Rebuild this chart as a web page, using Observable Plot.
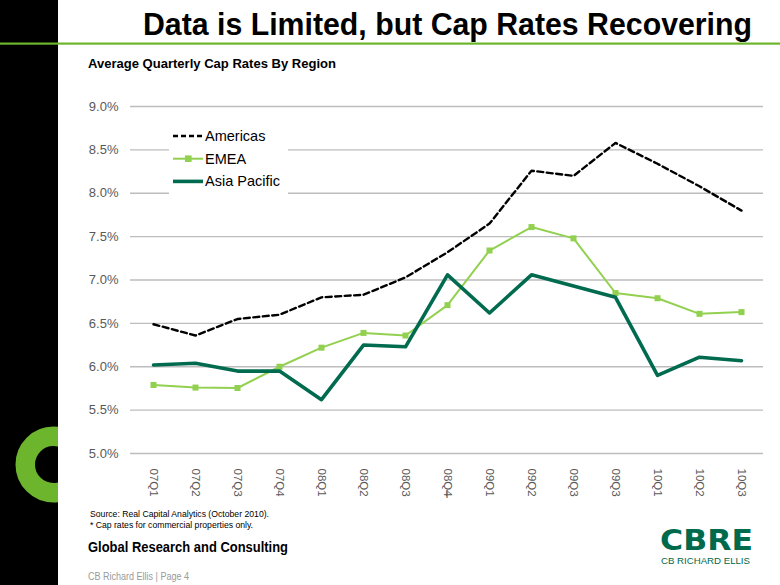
<!DOCTYPE html>
<html>
<head>
<meta charset="utf-8">
<script src="https://cdn.jsdelivr.net/npm/d3@7"></script>
<script src="https://cdn.jsdelivr.net/npm/@observablehq/plot@0.6"></script>
<style>
  html, body { margin: 0; padding: 0; background: #fff; }
  #page { position: relative; width: 780px; height: 585px; overflow: hidden; background: #fff;
          font-family: "Liberation Sans", Arial, sans-serif; }
  #plot { position: absolute; left: 0; top: 90px; }
  #legend { position: absolute; left: 169px; top: 119px; width: 119px; height: 80px; background: #fff; }
  .layer { position: absolute; left: 0; top: 0; }
</style>
</head>
<body>
<div id="page">
  <div id="plot"></div>
  <div id="legend"></div>
  <svg id="deco" class="layer" width="780" height="585"></svg>
</div>
<script>
// ---- data ----
const quarters = ["07Q1","07Q2","07Q3","07Q4","08Q1","08Q2","08Q3","08Q4","09Q1","09Q2","09Q3","09Q3","10Q1","10Q2","10Q3"];
const americas    = [6.49, 6.36, 6.55, 6.60, 6.80, 6.83, 7.03, 7.32, 7.65, 8.26, 8.20, 8.58, 8.34, 8.08, 7.80];
const emea        = [5.79, 5.76, 5.755, 6.00, 6.22, 6.39, 6.36, 6.71, 7.34, 7.61, 7.48, 6.85, 6.79, 6.61, 6.63];
const asiaPacific = [6.02, 6.04, 5.95, 5.95, 5.62, 6.25, 6.23, 7.06, 6.62, 7.06, 6.93, 6.80, 5.90, 6.11, 6.07];
const seriesNames = ["Americas", "EMEA", "Asia Pacific"];
const yTicks = [5.0, 5.5, 6.0, 6.5, 7.0, 7.5, 8.0, 8.5, 9.0];

const colAmericas = "#000000", colEmea = "#92D050", colAsia = "#006B4F";

const toRows = (vals, name) => vals.map((v, i) => ({i, v, name}));
const rowsA = toRows(americas, seriesNames[0]);
const rowsE = toRows(emea, seriesNames[1]);
const rowsP = toRows(asiaPacific, seriesNames[2]);

const chart = Plot.plot({
  width: 780,
  height: 410,
  marginLeft: 130,
  marginRight: 17,
  marginTop: 16,
  marginBottom: 47,
  style: {background: "transparent", fontFamily: "'Liberation Sans', Arial, sans-serif", color: "#595959"},
  x: {type: "point", domain: d3.range(quarters.length), padding: 0.5},
  y: {domain: [5, 9]},
  marks: [
    Plot.gridY(yTicks, {stroke: "#bdbdbd", strokeOpacity: 1, strokeWidth: 1.3}),
    Plot.axisY(yTicks, {tickSize: 0, tickPadding: 12, fontSize: 13, tickFormat: d => d.toFixed(1) + "%", fill: "#595959"}),
    Plot.axisX({tickRotate: 90, tickSize: 0, tickPadding: 15, fontSize: 11.5, tickFormat: i => quarters[i], fill: "#595959"}),
    Plot.line(rowsE, {x: "i", y: "v", stroke: colEmea, strokeWidth: 2}),
    Plot.dot(rowsE, {x: "i", y: "v", symbol: "square", r: 3.4, fill: colEmea, stroke: "none"}),
    Plot.line(rowsP, {x: "i", y: "v", stroke: colAsia, strokeWidth: 3.6}),
    Plot.line(rowsA, {x: "i", y: "v", stroke: colAmericas, strokeWidth: 2.4, strokeDasharray: "6,3.5"})
  ]
});
document.getElementById("plot").appendChild(chart);

// ---- legend ----
const leg = d3.select("#legend").append("svg").attr("width", 119).attr("height", 80);
const legendItems = [
  {name: seriesNames[0], color: colAmericas, w: 2.4, dash: "5,3", marker: false},
  {name: seriesNames[1], color: colEmea, w: 2, dash: null, marker: true},
  {name: seriesNames[2], color: colAsia, w: 3.6, dash: null, marker: false}
];
legendItems.forEach((it, k) => {
  const cy = 17 + k * 22.7;
  const l = leg.append("line").attr("x1", 4).attr("x2", 34).attr("y1", cy).attr("y2", cy)
    .attr("stroke", it.color).attr("stroke-width", it.w);
  if (it.dash) l.attr("stroke-dasharray", it.dash);
  if (it.marker) leg.append("rect").attr("x", 16).attr("y", cy - 3.3).attr("width", 6.6).attr("height", 6.6).attr("fill", it.color);
  leg.append("text").attr("x", 36).attr("y", cy + 5).attr("font-size", 14.5)
    .attr("font-family", "'Liberation Sans', Arial, sans-serif").attr("fill", "#000").text(it.name);
});

// ---- slide decoration ----
const deco = d3.select("#deco");
const bar = deco.append("svg").attr("x", 0).attr("y", 0).attr("width", 58).attr("height", 585);
bar.append("rect").attr("x", 0).attr("y", 0).attr("width", 58).attr("height", 585).attr("fill", "#000");
bar.append("circle").attr("cx", 53.5).attr("cy", 464.5).attr("r", 28.25)
  .attr("fill", "none").attr("stroke", "#6CB52D").attr("stroke-width", 19.5);
deco.append("rect").attr("x", 0).attr("y", 42.5).attr("width", 780).attr("height", 2.2).attr("fill", "#6CB52D");

function txt(x, y, s, size, opts = {}) {
  const t = deco.append("text").attr("x", x).attr("y", y).attr("font-size", size)
    .attr("font-family", opts.family || "'Liberation Sans', Arial, sans-serif")
    .attr("font-weight", opts.weight || "normal").attr("fill", opts.fill || "#000").text(s);
  if (opts.len) t.attr("textLength", opts.len).attr("lengthAdjust", "spacingAndGlyphs");
  return t;
}
txt(143, 35, "Data is Limited, but Cap Rates Recovering", 32, {weight: "bold", family: "'Liberation Sans Narrow', 'Liberation Sans', Arial, sans-serif", len: 609});
txt(88, 68, "Average Quarterly Cap Rates By Region", 12.5, {weight: "bold", len: 248});
txt(90, 516.5, "Source: Real Capital Analytics (October 2010).", 9.5, {len: 179});
txt(90, 527.5, "* Cap rates for commercial properties only.", 9.5, {len: 163});
txt(88, 552, "Global Research and Consulting", 14.5, {weight: "bold", len: 200});
txt(88, 580, "CB Richard Ellis  |  Page 4", 10, {fill: "#9a9a9a", len: 101});
txt(660, 550, "CBRE", 29, {weight: "bold", fill: "#006A4D", family: "'DejaVu Sans', sans-serif", len: 93});
txt(661, 564, "CB RICHARD ELLIS", 9, {fill: "#006A4D", len: 89});
</script>
</body>
</html>
